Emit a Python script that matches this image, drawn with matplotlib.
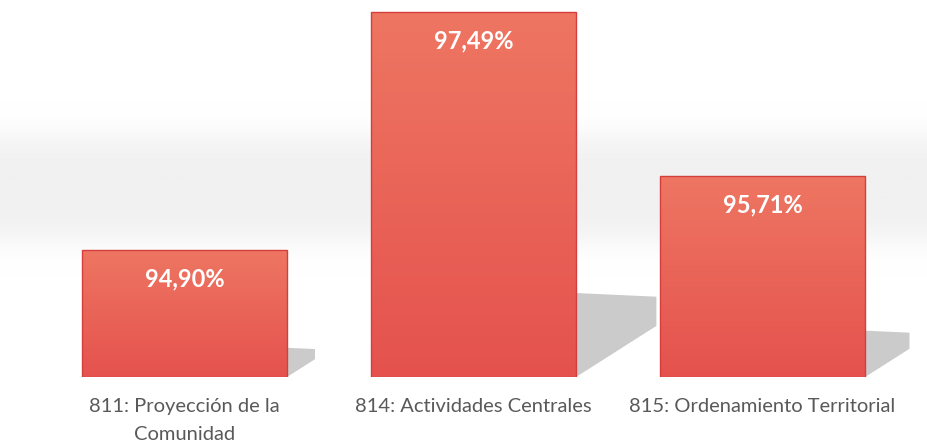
import numpy as np
import matplotlib.pyplot as plt
from matplotlib.colors import LinearSegmentedColormap
from matplotlib.patches import Polygon

categories = ["811: Proyección de la\nComunidad", "814: Actividades Centrales", "815: Ordenamiento Territorial"]
values = [94.90, 97.49, 95.71]
labels = ["94,90%", "97,49%", "95,71%"]

plt.rcParams["font.family"] = ["Lato", "DejaVu Sans"]

W, H = 927, 447
fig = plt.figure(figsize=(W / 100, H / 100), dpi=100)
ax = fig.add_axes([0, 70 / H, 1, 377 / H])

y0, y1 = 93.518, 97.62
x0, x1 = -0.638, 2.569
ax.set_xlim(x0, x1)
ax.set_ylim(y0, y1)
ax.axis("off")

# faint grey band in the background
prof = np.linspace(1, 0, 300)[:, None]
band = np.exp(-((prof - 0.5) / 0.15) ** 4)
band_cmap = LinearSegmentedColormap.from_list("band", ["#ffffff", "#f1f1f1"])
ax.imshow(band, cmap=band_cmap, aspect="auto", extent=[x0, x1, y0, y1],
          origin="lower", zorder=0, vmin=0, vmax=1)

bar_w = 0.71
px_x = W / (x1 - x0)
px_y = 377 / (y1 - y0)
bar_cmap = LinearSegmentedColormap.from_list("bar", ["#e5524e", "#ee7662"])
grad = np.linspace(0, 1, 256)[:, None]

for i, v in enumerate(values):
    left, right = i - bar_w / 2, i + bar_w / 2
    h = v - y0
    h_px = h * px_y
    # shadow
    sw = 0.22 * h_px / px_x
    shadow = Polygon([(right, y0), (right, y0 + 0.23 * h), (right + sw, y0 + 0.22 * h),
                      (right + sw, y0 + 0.14 * h)], closed=True,
                     facecolor="#cbcbcb", edgecolor="none", zorder=1)
    ax.add_patch(shadow)
    # gradient bar
    bars = ax.bar(i, h, width=bar_w, bottom=y0, color="none",
                  edgecolor="#d43e3c", linewidth=1.0, zorder=3)
    im = ax.imshow(grad, cmap=bar_cmap, aspect="auto", origin="lower",
                   extent=[left, right, y0, v], zorder=2)
    im.set_clip_path(bars[0])
    ax.text(i, v - 29 / px_y, labels[i], ha="center", va="center",
            color="white", fontsize=17, fontweight="bold", zorder=4)
    ax.text(i, y0 - 21 / px_y, categories[i], ha="center", va="top",
            color="#595959", fontsize=14.5, linespacing=1.75, zorder=4,
            clip_on=False)

fig.savefig("out.png", dpi=100, facecolor="white")
